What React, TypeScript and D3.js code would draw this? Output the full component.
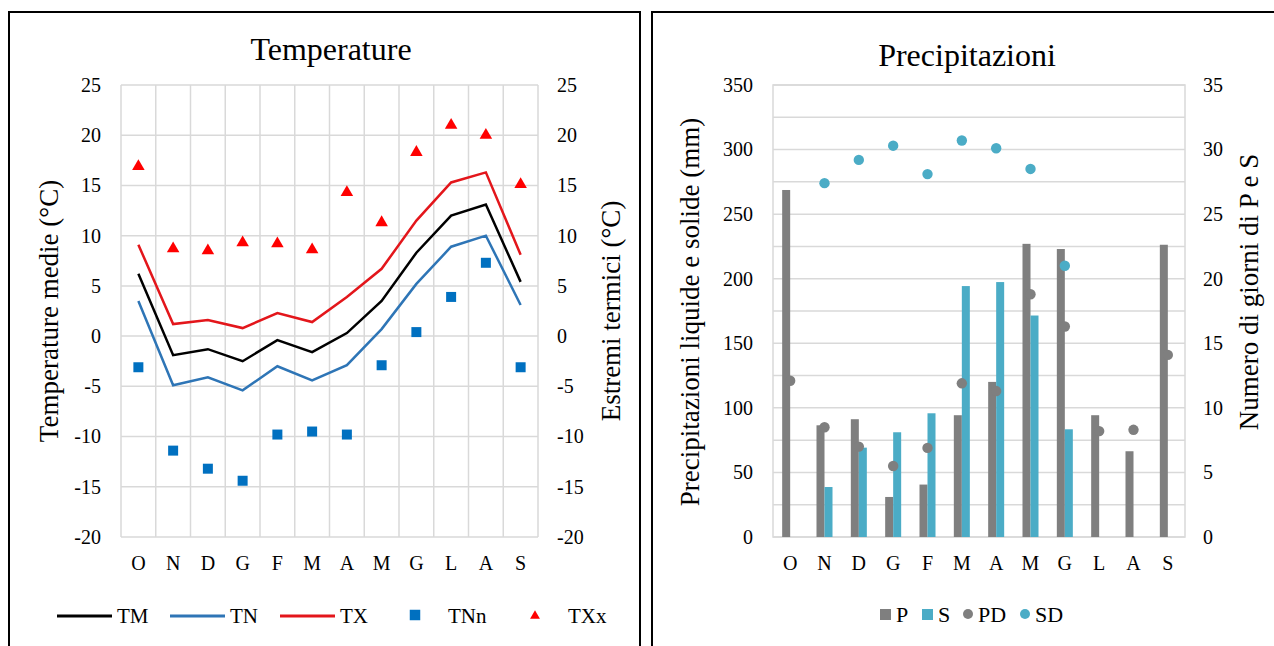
import React, { useRef, useEffect } from "react";
import * as d3 from "d3";

const months = ["O", "N", "D", "G", "F", "M", "A", "M", "G", "L", "A", "S"];

// temperature (°C)
const TM = [6.2, -1.9, -1.3, -2.5, -0.4, -1.6, 0.3, 3.5, 8.3, 12.0, 13.1, 5.4];
const TN = [3.5, -4.9, -4.1, -5.4, -3.0, -4.4, -2.9, 0.7, 5.2, 8.9, 10.0, 3.1];
const TX = [9.1, 1.2, 1.6, 0.8, 2.3, 1.4, 3.9, 6.7, 11.5, 15.3, 16.3, 8.1];
const TNn = [-3.1, -11.4, -13.2, -14.4, -9.8, -9.5, -9.8, -2.9, 0.4, 3.9, 7.3, -3.1];
const TXx = [16.9, 8.7, 8.5, 9.3, 9.2, 8.6, 14.3, 11.3, 18.3, 21.0, 20.0, 15.1];

// precipitation (mm) and days
const P = [268.7, 86.5, 91.2, 31, 40.6, 94.3, 120.1, 227, 223, 94.3, 66.4, 226.3];
const S = [0, 38.7, 69.2, 81.1, 95.8, 194.3, 197.4, 171.5, 83.4, 0, 0, 0];
const PD = [12.1, 8.5, 7.0, 5.5, 6.9, 11.9, 11.3, 18.8, 16.3, 8.2, 8.3, 14.1];
const SD = [null, 27.4, 29.2, 30.3, 28.1, 30.7, 30.1, 28.5, 21.0, null, null, null];

const tempTicks = [-20, -15, -10, -5, 0, 5, 10, 15, 20, 25];
const precTicks = [0, 50, 100, 150, 200, 250, 300, 350];
const dayTicks = [0, 5, 10, 15, 20, 25, 30, 35];

const FONT = '"Liberation Serif", "Times New Roman", serif';
const GRID = "#D9D9D9";
const GRAY = "#7F7F7F";
const AQUA = "#4BACC6";
const BLUE = "#2E75B6";
const RED = "#E3161B";

const App = () => {
    const svgRef = useRef();

    useEffect(() => {
        const svg = d3.select(svgRef.current);
        svg.selectAll("*").remove();
        svg.style("font-family", FONT);

        // panel frames
        svg.append("path")
            .attr("d", "M9,660 V12 H640 V660")
            .attr("fill", "none").attr("stroke", "#000").attr("stroke-width", 2);
        svg.append("path")
            .attr("d", "M652,660 V12 H1280")
            .attr("fill", "none").attr("stroke", "#000").attr("stroke-width", 2);

        const idx = d3.range(months.length);
        const fmt = (d) => String(d); // plain hyphen for negatives, like Excel

        // ---------- Temperature ----------
        const x = d3.scaleBand().domain(idx).range([121, 538]);
        const y = d3.scaleLinear().domain([-20, 25]).range([537, 85]);
        const bw = x.bandwidth();
        const cx = (i) => x(i) + bw / 2;

        const g1 = svg.append("g");
        g1.selectAll(".hg").data(tempTicks).enter().append("line")
            .attr("x1", 121).attr("x2", 538)
            .attr("y1", (d) => y(d)).attr("y2", (d) => y(d))
            .attr("stroke", GRID).attr("stroke-width", 1.5);
        g1.selectAll(".vg").data(d3.range(months.length + 1)).enter().append("line")
            .attr("x1", (d) => 121 + d * bw).attr("x2", (d) => 121 + d * bw)
            .attr("y1", 85).attr("y2", 537)
            .attr("stroke", GRID).attr("stroke-width", 1.5);

        const yl = g1.append("g").attr("transform", "translate(121,0)")
            .call(d3.axisLeft(y).tickValues(tempTicks).tickFormat(fmt).tickSize(0).tickPadding(20));
        const yr = g1.append("g").attr("transform", "translate(538,0)")
            .call(d3.axisRight(y).tickValues(tempTicks).tickFormat(fmt).tickSize(0).tickPadding(19));
        const xa = g1.append("g").attr("transform", "translate(0,537)")
            .call(d3.axisBottom(x).tickFormat((i) => months[i]).tickSize(0).tickPadding(19));
        [yl, yr, xa].forEach((a) => {
            a.attr("font-family", null);
            a.select(".domain").remove();
            a.selectAll("text").attr("fill", "#000").style("font-size", "20px").style("font-family", FONT);
        });

        const line = d3.line().x((d, i) => cx(i)).y((d) => y(d));
        [[TX, RED], [TM, "#000"], [TN, BLUE]].forEach(([s, c]) => {
            g1.append("path").datum(s).attr("d", line)
                .attr("fill", "none").attr("stroke", c).attr("stroke-width", 2.5);
        });
        const sq = d3.symbol().type(d3.symbolSquare).size(100);
        const tri = d3.symbol().type(d3.symbolTriangle).size(68);
        g1.selectAll(".tnn").data(TNn).enter().append("path")
            .attr("d", sq).attr("fill", "#0070C0")
            .attr("transform", (d, i) => `translate(${cx(i)},${y(d)})`);
        g1.selectAll(".txx").data(TXx).enter().append("path")
            .attr("d", tri).attr("fill", "#FF0000")
            .attr("transform", (d, i) => `translate(${cx(i)},${y(d)})`);

        g1.append("text").attr("x", 331).attr("y", 60).attr("text-anchor", "middle")
            .style("font-size", "32px").text("Temperature");
        g1.append("text").attr("transform", "translate(58,311) rotate(-90)").attr("text-anchor", "middle")
            .style("font-size", "27px").text("Temperature medie (°C)");
        g1.append("text").attr("transform", "translate(620,311) rotate(-90)").attr("text-anchor", "middle")
            .style("font-size", "27px").text("Estremi termici (°C)");

        // legend
        const lg = g1.append("g").style("font-size", "21px");
        [["TM", "#000", 57], ["TN", BLUE, 170], ["TX", RED, 280]].forEach(([t, c, lx]) => {
            lg.append("line").attr("x1", lx).attr("x2", lx + 55).attr("y1", 616).attr("y2", 616)
                .attr("stroke", c).attr("stroke-width", 3);
            lg.append("text").attr("x", lx + 60).attr("y", 623).text(t);
        });
        lg.append("path").attr("d", d3.symbol().type(d3.symbolSquare).size(110))
            .attr("fill", "#0070C0").attr("transform", "translate(415,615)");
        lg.append("text").attr("x", 448).attr("y", 623).text("TNn");
        lg.append("path").attr("d", d3.symbol().type(d3.symbolTriangle).size(42))
            .attr("fill", "#FF0000").attr("transform", "translate(535,616)");
        lg.append("text").attr("x", 568).attr("y", 623).text("TXx");

        // ---------- Precipitazioni ----------
        const x2 = d3.scaleBand().domain(idx).range([773, 1185]);
        const y2 = d3.scaleLinear().domain([0, 350]).range([537, 85]);
        const y2r = d3.scaleLinear().domain([0, 35]).range([537, 85]);
        const bw2 = x2.bandwidth();
        const cx2 = (i) => x2(i) + bw2 / 2;
        const inner = d3.scaleBand().domain(["P", "S"]).range([-8, 8]);

        const g2 = svg.append("g");
        g2.selectAll(".hg").data(d3.range(0, 351, 25)).enter().append("line")
            .attr("x1", 773).attr("x2", 1185)
            .attr("y1", (d) => y2(d)).attr("y2", (d) => y2(d))
            .attr("stroke", GRID).attr("stroke-width", 1.5);
        g2.append("rect").attr("x", 773).attr("y", 85).attr("width", 412).attr("height", 452)
            .attr("fill", "none").attr("stroke", GRID).attr("stroke-width", 1.5);

        const yl2 = g2.append("g").attr("transform", "translate(773,0)")
            .call(d3.axisLeft(y2).tickValues(precTicks).tickFormat(fmt).tickSize(0).tickPadding(20));
        const yr2 = g2.append("g").attr("transform", "translate(1185,0)")
            .call(d3.axisRight(y2r).tickValues(dayTicks).tickFormat(fmt).tickSize(0).tickPadding(18));
        const xa2 = g2.append("g").attr("transform", "translate(0,537)")
            .call(d3.axisBottom(x2).tickFormat((i) => months[i]).tickSize(0).tickPadding(19));
        [yl2, yr2, xa2].forEach((a) => {
            a.attr("font-family", null);
            a.select(".domain").remove();
            a.selectAll("text").attr("fill", "#000").style("font-size", "20px").style("font-family", FONT);
        });

        [["P", P, GRAY], ["S", S, AQUA]].forEach(([k, s, c]) => {
            g2.selectAll(".bar" + k).data(s).enter().append("rect")
                .attr("x", (d, i) => cx2(i) + inner(k))
                .attr("y", (d) => y2(d))
                .attr("width", inner.bandwidth())
                .attr("height", (d) => y2(0) - y2(d))
                .attr("fill", c);
        });
        g2.selectAll(".pd").data(PD).enter().append("circle")
            .attr("cx", (d, i) => cx2(i)).attr("cy", (d) => y2r(d)).attr("r", 5.2).attr("fill", GRAY);
        g2.selectAll(".sd").data(SD.map((v, i) => [v, i]).filter((d) => d[0] != null)).enter().append("circle")
            .attr("cx", (d) => cx2(d[1])).attr("cy", (d) => y2r(d[0])).attr("r", 5.2).attr("fill", AQUA);

        g2.append("text").attr("x", 967).attr("y", 66).attr("text-anchor", "middle")
            .style("font-size", "32px").text("Precipitazioni");
        g2.append("text").attr("transform", "translate(699,312) rotate(-90)").attr("text-anchor", "middle")
            .style("font-size", "27px").text("Precipitazioni liquide e solide (mm)");
        g2.append("text").attr("transform", "translate(1258,292) rotate(-90)").attr("text-anchor", "middle")
            .style("font-size", "27px").text("Numero di giorni di P e S");

        const lg2 = g2.append("g").style("font-size", "22px");
        lg2.append("rect").attr("x", 880).attr("y", 609).attr("width", 11).attr("height", 11).attr("fill", GRAY);
        lg2.append("text").attr("x", 896).attr("y", 622).text("P");
        lg2.append("rect").attr("x", 922).attr("y", 609).attr("width", 11).attr("height", 11).attr("fill", AQUA);
        lg2.append("text").attr("x", 938).attr("y", 622).text("S");
        lg2.append("circle").attr("cx", 968).attr("cy", 614).attr("r", 5).attr("fill", GRAY);
        lg2.append("text").attr("x", 978).attr("y", 622).text("PD");
        lg2.append("circle").attr("cx", 1025).attr("cy", 614).attr("r", 5).attr("fill", AQUA);
        lg2.append("text").attr("x", 1035).attr("y", 622).text("SD");
    }, []);

    return (
        <div style={{ position: "absolute", left: 0, top: 0, background: "#fff" }}>
            <svg ref={svgRef} width={1274} height={646} style={{ display: "block" }}></svg>
        </div>
    );
};

export default App;
